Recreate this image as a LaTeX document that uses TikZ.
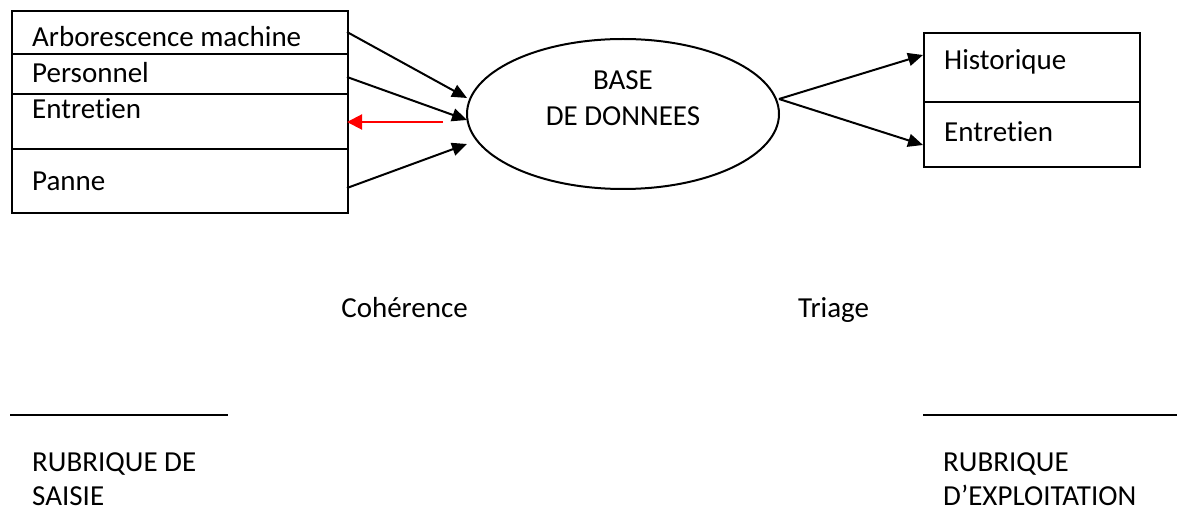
\documentclass[tikz,border=0pt]{standalone}
\usepackage{fontspec}
\setmainfont{Carlito}[Ligatures=NoCommon]
\usetikzlibrary{arrows.meta,shapes.geometric}
\begin{document}
\begin{tikzpicture}[x=1pt,y=-1pt,
  lbl/.style={anchor=base west,inner sep=0pt,font=\fontsize{29}{35}\selectfont},
  frame/.style={draw,line width=2pt,rectangle,inner sep=0pt,anchor=north west},
  rule/.style={line width=2pt},
  flow/.style={line width=2pt,-{Triangle[length=15pt,width=13pt]}},
  back/.style={red,line width=2pt,-{Triangle[length=15pt,width=15pt]}}]
\useasboundingbox (0,0) rectangle (1178,513);

% input form (left)
\node[frame,minimum width=336pt,minimum height=202pt] (saisie) at (11,10) {};
\draw[rule] (11,54) -- (347,54);
\draw[rule] (11,94) -- (347,94);
\draw[rule] (11,149) -- (347,149);
\node[lbl] (arbo) at (32,47) {Arborescence machine};
\node[lbl] (perso) at (32,83) {Personnel};
\node[lbl] (entr) at (32,119) {Entretien};
\node[lbl] (panne) at (32,191) {Panne};

% database
\node[draw,ellipse,line width=2pt,minimum width=312pt,minimum height=150pt,inner sep=0pt] (db) at (623,114) {};
\node[lbl,anchor=base] (dbA) at (623,90) {BASE};
\node[lbl,anchor=base] (dbB) at (623,126) {DE DONNEES};

% output form (right)
\node[frame,minimum width=216pt,minimum height=134pt] (exploit) at (923,32) {};
\draw[rule] (923,102) -- (1139,102);
\node[lbl] (hist) at (944,70) {Historique};
\node[lbl] (entr2) at (944,142) {Entretien};

% connector end points
\coordinate (oA) at (347,32);
\coordinate (oP) at (347,77);
\coordinate (oN) at (347,188);
\coordinate (oE) at (347,122);
\coordinate (iA) at (467,98);
\coordinate (iP) at (467,120);
\coordinate (iN) at (467,144);
\coordinate (iE) at (443,122);
\coordinate (dOut) at (779,99);
\coordinate (tH) at (923,55);
\coordinate (tE) at (923,145);

\draw[flow] (oA) -- (iA);
\draw[flow] (oP) -- (iP);
\draw[flow] (oN) -- (iN);
\draw[back] (iE) -- (oE);
\draw[flow] (dOut) -- (tH);
\draw[flow] (dOut) -- (tE);

% captions
\node[lbl,anchor=base east] (coh) at (468,317) {Cohérence};
\node[lbl] (tri) at (798,317) {Triage};

\draw[rule] (10,415) -- (228,415);
\draw[rule] (923,415) -- (1177,415);
\node[lbl] (rs1) at (32,471) {RUBRIQUE DE};
\node[lbl] (rs2) at (32,505) {SAISIE};
\node[lbl] (re1) at (943,471) {RUBRIQUE};
\node[lbl] (re2) at (943,505) {D’EXPLOITATION};
\end{tikzpicture}
\end{document}
